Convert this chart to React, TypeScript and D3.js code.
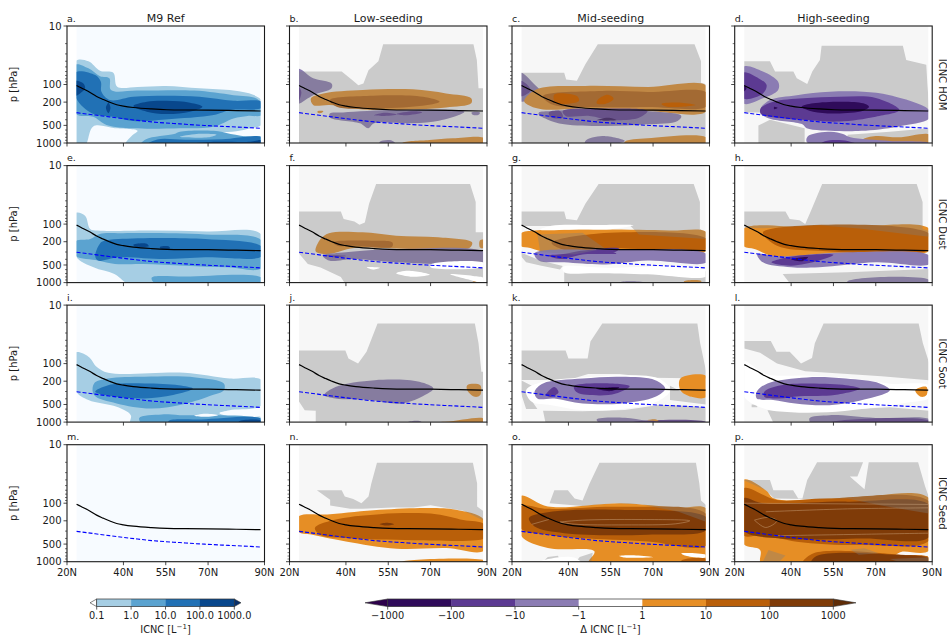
import React from "react";
import * as d3 from "d3";

type Pt = [number, number];
type Contour = [number, Pt[]];

const latTicks = [20, 40, 55, 70, 90];
const latLabels = ["20N", "40N", "55N", "70N", "90N"];
const pMajor = [10, 100, 200, 500, 1000];
const pMinor = [20, 30, 40, 50, 60, 70, 80, 90, 300, 400, 600, 700, 800, 900];
const columnTitles = ["M9 Ref", "Low-seeding", "Mid-seeding", "High-seeding"];
const rowTitles = ["ICNC HOM", "ICNC Dust", "ICNC Soot", "ICNC Seed"];
const letters = "abcdefghijklmnop".split("");

const blueColors = ["#f7fbff", "#a6cee4", "#5ba3d0", "#2171b5", "#08478c"];
const diffColors: Record<string, string> = {
  "-3": "#2f0b5a", "-2": "#5c3a92", "-1": "#8b7cb3", "0": "#ffffff",
  "1": "#e68e25", "2": "#b95f09", "3": "#7f3b08",
};
const blueTicks = ["0.1", "1.0", "10.0", "100.0", "1000.0"];
const diffTicks = ["\u22121000", "\u2212100", "\u221210", "\u22121", "1", "10", "100", "1000"];

const tropopause: Pt[] = [[23.4, 104], [25, 114], [28.2, 137], [30.5, 160], [32.8, 180], [35, 200], [37.6, 222], [40, 234], [43.5, 247], [50, 262], [55.4, 270], [62, 273], [70, 274], [80, 279], [88.6, 284]];
const isoline: Pt[] = [[23.4, 303], [30, 333], [35, 358], [40, 384], [45, 410], [50, 436], [55, 455], [60, 471], [65, 490], [70, 505], [75, 520], [80, 533], [85, 548], [88.6, 560]];

const aContours: Contour[] = [
  [1, [[23, 40], [27.6, 40], [31.7, 58], [36.4, 63], [37.8, 109], [45, 110], [55, 106], [67, 116], [79, 127], [86, 150], [89, 190], [89, 480], [85, 560], [80, 630], [74, 660], [70, 690], [76, 790], [89, 820], [89, 1100], [40.6, 1100], [42.9, 760], [45, 620], [37, 560], [29.3, 520], [26.4, 1100], [23, 1100]]],
  [2, [[23, 46], [27.6, 53], [31.7, 72], [35, 78], [35.6, 124], [45, 127], [65, 127], [79, 152], [87, 172], [89, 220], [89, 333], [84, 345], [79, 380], [72, 525], [60, 560], [43.5, 560], [34, 490], [29.3, 355], [23, 312]]],
  [2, [[46, 1100], [48, 860], [58, 700], [60, 640], [72, 620], [78, 700], [85, 790], [89, 790], [89, 1100]]],
  [1, [[60, 780], [66, 700], [73, 720], [70, 800], [62, 800]]],
  [3, [[23, 62], [30, 69], [32, 90], [32.2, 133], [35.2, 184], [43.5, 162], [55, 155], [67, 162], [79, 190], [89, 197], [89, 250], [78, 274], [72, 333], [55, 395], [43.5, 420], [36.4, 355], [29, 312], [23, 162]]],
  [3, [[48, 1100], [52, 870], [62, 880], [75, 860], [89, 800], [89, 1100]]],
  [4, [[23, 87], [25.8, 96], [26.4, 116], [24.6, 142], [23, 155]]],
  [4, [[34.7, 205], [35.4, 250], [34.7, 310], [33.8, 250]]],
  [4, [[43.5, 234], [48.3, 197], [55.3, 190], [63.6, 205], [68, 240], [63.6, 292], [55.3, 320], [48.3, 292]]],
  [4, [[60, 1100], [70, 960], [85, 950], [89, 900], [89, 1100]]],
];

const bContours: Contour[] = [
  [-1, [[23, 54], [28.4, 78], [34.9, 96], [34.9, 116], [28.4, 152], [23.7, 210], [23, 215]]],
  [-2, [[23, 105], [24.2, 135], [23, 205]]],
  [1, [[27.6, 172], [32, 142], [46, 124], [63.7, 121], [75.5, 142], [84.4, 172], [84.4, 210], [75.5, 247], [63.7, 267], [46, 267], [34.3, 224], [28.4, 224]]],
  [2, [[34.3, 184], [49.6, 155], [67.3, 162], [73.2, 197], [66, 234], [49.6, 256], [36.7, 240]]],
  [1, [[30, 285], [32, 285], [31.5, 305], [30, 305]]],
  [-1, [[34.3, 312], [39, 300], [58, 274], [82, 292], [80, 333], [73, 415], [63.7, 460], [50, 460], [47.9, 560], [45, 460], [34.3, 365]]],
  [-2, [[50, 333], [54, 303], [58, 325], [53, 345]]],
  [-2, [[58, 320], [64, 288], [67, 300], [61, 335]]],
  [-1, [[84.5, 300], [87.5, 300], [87, 330], [85, 330]]],
  [-1, [[52, 950], [56, 900], [58, 1100], [52, 1100]]],
  [1, [[60, 1000], [69.6, 890], [77.9, 830], [89, 830], [89, 1100], [60, 1100]]],
];
const cContours: Contour[] = [
  [-1, [[23, 63], [28, 100], [30.3, 138], [25, 192], [23, 192]]],
  [-2, [[23, 87], [25.8, 106], [26.5, 129], [23, 158]]],
  [1, [[24.3, 192], [28.8, 121], [46, 106], [68.3, 110], [89, 106], [89, 285], [68, 285], [46, 256], [31, 267], [26.5, 234]]],
  [2, [[31, 158], [52, 129], [68, 134], [89, 138], [89, 234], [68, 243], [52, 243], [34, 218]]],
  [-1, [[29.5, 303], [34, 285], [46, 267], [68, 285], [80, 345], [78.7, 420], [68, 480], [53.3, 513], [38.5, 480], [32.5, 395], [29.5, 330]]],
  [-2, [[33, 303], [37, 285], [38, 365], [34, 365]]],
  [-2, [[38, 285], [52, 258], [68, 285], [65, 370], [55, 405], [47.5, 345], [39, 345]]],
  [-3, [[50, 410], [54, 370], [57, 405]]],
  [-1, [[46, 920], [52, 760], [60, 925], [52, 1100], [46, 1100]]],
  [1, [[60, 950], [68, 830], [89, 810], [89, 1100], [60, 1100]]],
];
const cOver: Contour[] = [
  [2, [[35, 148], [43, 158], [43.7, 192], [35.4, 205]]],
  [2, [[50.5, 180], [54, 150], [56, 175], [53, 215], [50, 210]]],
  [2, [[73, 215], [80, 205], [85, 225], [75, 240]]],
];
const dContours: Contour[] = [
  [1, [[65.5, 866], [70, 760], [78, 800], [89, 720], [89, 960], [65.5, 960]]],
];
const dOver: Contour[] = [
  [-1, [[23, 50], [30, 60], [35.4, 90], [35.4, 124], [30, 172], [23, 210]]],
  [-2, [[23, 63], [28.4, 78], [31.3, 102], [30, 142], [23, 172]]],
  [-3, [[23, 102], [24.2, 116], [23, 133]]],
  [-1, [[29.2, 256], [32.5, 184], [42, 152], [53.7, 133], [65.5, 133], [75, 152], [89, 274], [89, 380], [77.8, 525], [65, 620], [57, 625], [45.5, 560], [44, 480], [32.5, 385], [29.2, 312]]],
  [-2, [[29.2, 256], [33.7, 197], [44.3, 172], [57, 162], [70, 170], [78.4, 274], [70, 355], [57, 430], [45.5, 405], [32.5, 355], [29.2, 312]]],
  [-3, [[43.7, 240], [47.8, 210], [58.4, 197], [65.5, 210], [67.6, 240], [65.5, 280], [56, 312], [47.8, 292]]],
  [-3, [[34, 240], [35.2, 250], [34, 265]]],
  [-1, [[46, 760], [54, 640], [58.4, 700], [61, 800], [75, 920], [89, 1000], [89, 1100], [49.5, 1100], [45.5, 950]]],
  [-2, [[50, 1100], [52, 930], [60, 920], [64, 1100]]],
];
const eContours: Contour[] = [
  [1, [[23, 65], [26.4, 72], [28.2, 121], [30.9, 129], [50.2, 129], [69.6, 134], [89, 152], [89, 1100], [42.8, 1100], [36.8, 710], [29.4, 548], [23, 345]]],
  [2, [[23, 198], [28.2, 180], [31.6, 147], [39.7, 143], [69, 150], [89, 192], [89, 560], [77, 548], [62, 513], [47, 480], [37, 480], [31, 420], [23, 345]]],
  [2, [[50, 830], [62, 790], [89, 830], [89, 1100], [52, 1100]]],
  [3, [[31.6, 218], [33, 195], [38.3, 180], [69, 180], [89, 243], [89, 355], [69, 370], [54.7, 395], [38.3, 370], [31, 420], [30, 350]]],
  [4, [[43.5, 225], [48, 215], [49, 240], [44, 240]]],
  [4, [[53, 245], [56, 240], [56.5, 262], [53, 262]]],
];
const fContours: Contour[] = [
  [1, [[29.2, 285], [31, 180], [34, 143], [45.9, 138], [57.8, 158], [72.7, 168], [84.7, 205], [84, 250], [65, 267], [43, 256], [34, 325], [30, 310]]],
  [2, [[35.5, 205], [49, 192], [56.4, 205], [56.4, 243], [43, 234], [37, 234]]],
  [1, [[87.5, 190], [89, 185], [89, 255], [87.5, 250]]],
  [-1, [[31.8, 345], [40, 303], [57.8, 267], [89, 303], [89, 450], [72.7, 480], [57.8, 450], [43, 395], [34, 420]]],
  [-2, [[33, 345], [40, 350], [36, 370]]],
  [1, [[85, 960], [88, 930], [88, 1000], [85, 1000]]],
];
const fOver: Contour[] = [
  [0, [[47.4, 548], [52, 560], [49.7, 600]]],
  [0, [[57.8, 690], [62, 625], [69.8, 730], [63.8, 795]]],
  [0, [[70, 490], [89, 460], [89, 525], [70, 545]]],
  [0, [[77, 720], [85, 770], [89, 840], [89, 1000], [84, 900]]],
];
const gContours: Contour[] = [
  [1, [[23, 147], [28, 129], [53, 124], [75.7, 129], [89, 138], [89, 285], [68, 325], [50, 345], [34, 325], [26.5, 256], [23, 234]]],
  [2, [[34, 210], [49, 147], [89, 180], [89, 267], [68, 267], [53, 260], [41.5, 300]]],
  [-1, [[28, 315], [53, 274], [89, 325], [89, 450], [68, 420], [53, 490], [38.5, 450], [29.5, 420]]],
  [-2, [[33, 345], [39, 320], [44.4, 285], [58, 260], [56, 310], [45, 330], [37, 395]]],
  [-2, [[50, 320], [54, 295], [57, 320]]],
  [-1, [[58, 1000], [65, 960], [70, 1100], [58, 1100]]],
  [1, [[81, 950], [87, 930], [87, 1000], [81, 1000]]],
];
const gOver: Contour[] = [
  [0, [[34, 107], [50, 104], [63, 105], [55, 122], [45, 122], [30, 125]]],
  [0, [[38, 548], [53, 560], [89, 600], [89, 780], [68, 720], [50, 690], [38.5, 666]]],
];
const hContours: Contour[] = [
  [1, [[23, 121], [45, 113], [60, 121], [70, 106], [89, 121], [89, 285], [70, 303], [50, 325], [35, 370], [27, 267], [23, 234]]],
  [2, [[30, 138], [89, 147], [89, 267], [50, 285], [35, 234]]],
  [-1, [[28, 325], [36, 355], [60, 303], [89, 345], [89, 480], [70, 450], [50, 548], [40, 548], [30, 450]]],
  [-2, [[36, 395], [43, 345], [55, 334], [50, 420], [40, 513], [33, 450]]],
  [-3, [[40, 400], [46, 370], [44, 430]]],
  [-1, [[60, 950], [89, 900], [89, 1100], [60, 1100]]],
];
const iContours: Contour[] = [
  [1, [[23, 65], [27.6, 76], [30.6, 114], [34.6, 143], [61.6, 143], [77.6, 180], [89, 192], [89, 513], [77.6, 625], [74, 700], [81.6, 866], [89, 830], [89, 1100], [42.6, 1100], [42.6, 760], [37.6, 548], [27.6, 420], [23, 285]]],
  [2, [[29.6, 218], [34.6, 180], [47.6, 168], [65.6, 172], [75.6, 218], [75.6, 285], [71.6, 345], [61.6, 490], [49.6, 585], [37.6, 480], [29.6, 345]]],
  [2, [[45.6, 850], [53.6, 740], [60, 760], [89, 900], [89, 1100], [47, 1100]]],
  [3, [[56, 960], [67.6, 900], [89, 880], [89, 1100], [56, 1100]]],
  [3, [[30, 303], [34.6, 234], [47.6, 218], [59.6, 234], [64.6, 267], [57.6, 345], [47.6, 395], [37.6, 370]]],
  [4, [[81, 970], [89, 950], [89, 1100], [81, 1100]]],
  [0, [[65, 780], [69, 720], [73.5, 760], [69, 810]]],
];
const jContours: Contour[] = [
  [-1, [[32.3, 345], [36.3, 250], [50.2, 192], [66, 205], [71, 267], [68, 345], [60, 480], [48.2, 420], [36.3, 395]]],
  [1, [[83, 234], [87.6, 234], [87.6, 345], [85.7, 370], [83, 285]]],
  [1, [[58, 1050], [75, 990], [89, 880], [89, 1100], [58, 1100]]],
  [-1, [[62, 1000], [66, 960], [68, 1100]]],
];
const kContours: Contour[] = [
  [-1, [[50, 900], [60, 840], [68, 950], [80, 1040], [89, 1040], [89, 1100], [52, 1100]]],
  [-2, [[62, 1030], [89, 1000], [89, 1100], [62, 1100]]],
  [1, [[68, 930], [71, 900], [72, 960]]],
];
const kOver: Contour[] = [
  [0, [[25, 285], [31, 205], [45, 172], [58.8, 158], [72, 180], [76, 285], [72, 430], [58.8, 600], [45, 625], [34, 513], [27, 450]]],
  [-1, [[28, 303], [31, 218], [45, 180], [58.8, 168], [70.8, 192], [74.3, 267], [70.8, 370], [58.8, 480], [45, 480], [35, 395], [29, 395]]],
  [-2, [[32, 345], [35, 250], [36.5, 310], [34, 370]]],
  [-2, [[42, 243], [61.7, 243], [56.8, 325], [50.8, 350], [43, 310]]],
  [-3, [[50, 270], [58, 255], [55, 295]]],
  [1, [[79.7, 180], [89, 165], [89, 370], [83.6, 370], [79.7, 285]]],
];
const lContours: Contour[] = [
  [-1, [[46.5, 860], [53.6, 760], [70, 850], [89, 900], [89, 1100], [47.5, 1100]]],
  [-2, [[54, 1020], [89, 950], [89, 1100], [54, 1100]]],
];
const lOver: Contour[] = [
  [0, [[23, 90], [31, 150], [45, 160], [60, 175], [75, 220], [89, 240], [89, 380], [80, 470], [65, 600], [53, 680], [40, 680], [30, 580], [23, 350]]],
  [-1, [[27.8, 303], [31.6, 218], [45.6, 172], [59.4, 180], [71.4, 218], [75, 285], [67.4, 395], [53.6, 513], [41.5, 480], [33.6, 420], [27.8, 395]]],
  [-2, [[30.5, 303], [36.5, 234], [59.4, 234], [64.4, 267], [55.4, 345], [43, 360], [35.5, 395], [30.5, 370]]],
  [1, [[84, 285], [88, 250], [88, 345], [86, 370]]],
];
const nContours: Contour[] = [
  [1, [[23, 171], [34.4, 155], [52, 130], [69.7, 121], [79, 130], [89, 194], [89, 640], [75.6, 585], [58, 600], [40, 450], [28.5, 350], [23, 303]]],
  [2, [[29, 265], [35.6, 194], [52, 154], [72, 154], [81.6, 194], [89, 230], [89, 395], [86, 430], [63.9, 430], [40, 395], [31, 350]]],
  [3, [[52, 228], [54.5, 216], [57, 228], [54.5, 240]]],
  [1, [[60, 1000], [89, 950], [89, 1030], [60, 1040]]],
];
const oContours: Contour[] = [
  [1, [[23, 76], [32.7, 114], [58.7, 100], [79, 120], [89, 125], [89, 1100], [47, 1100], [49.2, 666], [32.7, 585], [23, 350]]],
  [2, [[23, 114], [32.7, 125], [58.7, 115], [89, 155], [89, 520], [68, 450], [44.5, 395], [32.7, 345], [23, 267]]],
  [3, [[26, 180], [32.7, 143], [56, 129], [89, 175], [89, 285], [68, 345], [38.6, 325], [28, 250]]],
  [2, [[80, 960], [89, 900], [89, 1100], [80, 1100]]],
];
const oOver: Contour[] = [
  [0, [[58, 800], [64, 780], [70, 830], [60, 850]]],
  [0, [[80, 720], [89, 770], [89, 840], [82, 800]]],
  [0, [[34, 880], [42, 850], [45, 1100], [30, 1100], [30, 1000]]],
];
const pContours: Contour[] = [
  [1, [[23, 40], [31, 60], [34, 83], [60.8, 81], [89, 83], [89, 640], [79, 680], [77, 780], [89, 850], [89, 1100], [29.5, 1100], [29, 630], [23, 490]]],
  [2, [[23, 56], [34.8, 88], [52, 83], [89, 94], [89, 430], [65.5, 520], [42, 455], [30, 350], [23, 350]]],
  [3, [[23, 83], [30, 100], [60, 94], [89, 108], [89, 375], [65.5, 400], [36, 400], [23, 289]]],
  [2, [[44, 1100], [48, 720], [79, 760], [89, 850], [89, 1100]]],
  [3, [[47, 1100], [49, 800], [77, 760], [89, 890], [89, 1100]]],
];
const oSeams: Pt[][] = [[[37, 210], [45, 195], [65, 190], [83, 200], [78, 225], [60, 235], [42, 228], [37, 210]], [[27, 230], [33, 190]]];
const pSeams: Pt[][] = [[[23, 100], [89, 105]], [[31, 140], [60, 125], [89, 120]], [[27, 195], [32, 175], [35, 200], [31, 260], [27, 195]], [[34, 360], [65, 340], [89, 325]]];
const nSeams: Pt[][] = [];

const hatchB: Pt[][] = [[[23, 60], [38.5, 60], [42, 82], [44.4, 103], [46.2, 96], [48, 57], [51.5, 40], [53.2, 20.6], [85.2, 20.6], [86.4, 38], [87, 116], [89, 116], [89, 1100], [23, 1100]]];
const hatchC: Pt[][] = [[[23, 63], [38.5, 63], [39.2, 82], [43, 86], [46, 45], [50.4, 20.6], [84.7, 20.6], [87, 40], [87, 93], [89, 100], [89, 1100], [23, 1100]]];
const hatchD: Pt[][] = [
  [[23, 40], [32.5, 40], [34.3, 60], [40.8, 60], [42, 78], [45.7, 98], [47.5, 60], [50.2, 38], [50.8, 21.7], [79.6, 21.7], [80.8, 38], [87.9, 46], [88.3, 100], [89, 280], [70, 300], [40, 300], [23, 300]],
  [[28.4, 500], [32.5, 400], [44.8, 560], [44.8, 1100], [28.4, 1100]],
  [[60, 720], [75, 640], [89, 560], [89, 1100], [60, 1100]],
];
const hatchE: Pt[][] = [];
const hatchF: Pt[][] = [[[23, 61], [38.2, 61], [39.2, 82], [43, 90], [44.8, 103], [46.7, 94], [48.2, 45], [50.7, 20.6], [84, 20.6], [86, 42], [86, 138], [89, 138], [89, 1100], [40, 1100], [38.2, 800], [31, 550], [26.5, 480], [23, 303]]];
const hatchG: Pt[][] = [
  [[23, 61], [38.5, 61], [39.2, 82], [43, 86], [46, 45], [50.7, 20.6], [84.4, 20.6], [86.6, 42], [86.6, 121], [89, 138], [89, 180], [65, 150], [62, 108], [23, 108]],
  [[29, 150], [45, 140], [53, 260], [42, 330], [30, 300]],
  [[23, 303], [30, 420], [38, 520], [37, 600], [30, 510], [25, 450], [23, 345]],
  [[38.5, 666], [89, 640], [89, 1100], [38.5, 1100]],
];
const hatchH: Pt[][] = [
  [[23, 61], [38, 61], [39.5, 82], [43, 86], [45, 100], [47, 60], [51, 20.6], [84.5, 20.6], [86.6, 42], [86.6, 121], [89, 130], [89, 165], [65, 120], [50, 105], [30, 118], [23, 115]],
  [[37, 710], [60, 666], [89, 585], [89, 1100], [40, 1100]],
];
const hatchJ: Pt[][] = [[[23, 60], [39.8, 60], [40.9, 82], [44.3, 100], [47.3, 63], [51.2, 20.6], [85.7, 20.6], [87, 45], [88, 138], [89, 138], [89, 1100], [29.3, 1100], [29.3, 640], [25.4, 625], [23, 420]]];
const hatchK: Pt[][] = [
  [[23, 60], [39, 60], [40, 82], [46.8, 82], [47.8, 42], [52, 20.6], [85.7, 20.6], [86.7, 45], [89, 150], [89, 180], [70, 175], [58, 150], [47, 150], [40, 190], [23, 190]],
  [[23, 190], [27, 240], [27, 430], [29, 600], [25, 600], [23, 300]],
  [[31, 640], [45, 650], [60, 620], [72, 510], [80, 520], [89, 560], [89, 1100], [32, 1100]],
  [[76, 240], [80, 300], [84, 370], [89, 380], [89, 500], [76, 420]],
];
const hatchL: Pt[][] = [
  [[23.4, 41], [32.8, 41], [34.8, 63], [39.5, 63], [43.5, 100], [47.4, 80], [48.4, 45], [51.5, 20.6], [85.2, 20.6], [86.7, 45], [89, 100], [89, 192], [72, 165], [60, 150], [45, 135], [35, 100], [29, 65], [23.4, 55]],
  [[31.6, 625], [45, 640], [60, 610], [75, 560], [89, 640], [89, 1100], [34, 1100]],
  [[26, 500], [28, 500], [28, 560], [26, 560]],
];
const hatchN: Pt[][] = [[[29.7, 60], [38.5, 60], [39.6, 77], [42.6, 85], [45.5, 100], [48, 77], [49, 46], [51, 20.3], [85, 20.3], [86.5, 46], [86.5, 114], [89, 140], [89, 200], [81.6, 135], [70, 108], [63.9, 118], [56.7, 118], [46, 125], [41.5, 125], [34.4, 110], [34.4, 87]]];
const hatchO: Pt[][] = [
  [[33.3, 100], [35, 60], [39.8, 60], [42.2, 83], [45, 90], [47.5, 46], [51, 20.3], [85.2, 20.3], [86.4, 46], [87, 90], [89, 110], [89, 210], [79, 140], [66, 105], [56.3, 100], [45, 112]],
  [[30, 1100], [32.7, 830], [36.3, 790], [37.5, 1100]],
  [[42, 1100], [44, 830], [48.6, 700], [48, 1100]],
];
const hatchP: Pt[][] = [
  [[23, 40], [32.5, 40], [33.7, 60], [40.7, 60], [42.5, 83], [44, 83], [45.7, 40], [49.2, 20], [65.5, 20], [63.5, 35], [60.8, 35], [66, 58], [67.5, 20], [85, 20], [87.5, 52], [89, 83], [60, 83], [45, 85], [34, 83], [31, 60]],
  [[60, 83], [89, 83], [89, 150], [72, 110]],
  [[29.5, 1100], [32, 630], [38, 780], [35, 1100]],
  [[61, 625], [66, 590], [71, 720], [64, 760]],
  [[75, 900], [89, 840], [89, 1000], [78, 1000]],
];

const COLS = [67, 289.5, 512, 734.7];
const ROWS = [26, 165.6, 305.1, 444.7];
const W = 197.5;
const H = 117;
const FONT = "'DejaVu Sans', sans-serif";
const DARK = "#1a1a1a";

const x = d3.scaleLinear().domain([20, 90]).range([0, W]);
const y = d3.scaleLog().domain([10, 1000]).range([0, H]);
const closedSmooth = d3.line<Pt>().x((d) => x(d[0])).y((d) => y(d[1])).curve(d3.curveCatmullRomClosed.alpha(0.5));
const closedSharp = d3.line<Pt>().x((d) => x(d[0])).y((d) => y(d[1])).curve(d3.curveLinearClosed);
const openSmooth = d3.line<Pt>().x((d) => x(d[0])).y((d) => y(d[1])).curve(d3.curveCatmullRom.alpha(0.5));
const profileLine = d3.line<Pt>().x((d) => x(d[0])).y((d) => y(d[1])).curve(d3.curveMonotoneX);

const PANELS: { under: Contour[]; hatch: Pt[][]; over: Contour[]; seams: Pt[][] }[] = [
  { under: aContours, hatch: [], over: [], seams: [] },
  { under: bContours, hatch: hatchB, over: [], seams: [] },
  { under: cContours, hatch: hatchC, over: cOver, seams: [] },
  { under: dContours, hatch: hatchD, over: dOver, seams: [] },
  { under: eContours, hatch: hatchE, over: [], seams: [] },
  { under: fContours, hatch: hatchF, over: fOver, seams: [] },
  { under: gContours, hatch: hatchG, over: gOver, seams: [] },
  { under: hContours, hatch: hatchH, over: [], seams: [] },
  { under: iContours, hatch: [], over: [], seams: [] },
  { under: jContours, hatch: hatchJ, over: [], seams: [] },
  { under: kContours, hatch: hatchK, over: kOver, seams: [] },
  { under: lContours, hatch: hatchL, over: lOver, seams: [] },
  { under: [], hatch: [], over: [], seams: [] },
  { under: nContours, hatch: hatchN, over: [], seams: nSeams },
  { under: oContours, hatch: hatchO, over: oOver, seams: oSeams },
  { under: pContours, hatch: hatchP, over: [], seams: pSeams },
];

function Panel({ i }: { i: number }) {
  const c = i % 4;
  const r = Math.floor(i / 4);
  const isRef = c === 0;
  const p = PANELS[i];
  const color = (l: number) => (isRef ? blueColors[l] : diffColors[String(l)]);
  const clipId = `clip${i}`;
  return (
    <g transform={`translate(${COLS[c]},${ROWS[r]})`}>
      <clipPath id={clipId}>
        <rect x={x(23.4)} y={0} width={x(88.6) - x(23.4)} height={H} />
      </clipPath>
      <rect x={x(23.4)} y={0} width={x(88.6) - x(23.4)} height={H} fill={isRef ? blueColors[0] : "#f7f7f7"} />
      <g clipPath={`url(#${clipId})`}>
        {p.under.map(([l, pts], k) => <path key={k} d={closedSmooth(pts) ?? ""} fill={color(l)} />)}
        {p.hatch.map((pts, k) => <path key={k} d={closedSharp(pts) ?? ""} fill="url(#dots)" />)}
        {p.over.map(([l, pts], k) => <path key={k} d={closedSmooth(pts) ?? ""} fill={color(l)} />)}
        {p.seams.map((pts, k) => <path key={k} d={openSmooth(pts) ?? ""} fill="none" stroke="#d9b48f" strokeWidth={0.6} strokeOpacity={0.7} />)}
      </g>
      <path d={profileLine(tropopause) ?? ""} fill="none" stroke="#000" strokeWidth={1.2} />
      <path d={profileLine(isoline) ?? ""} fill="none" stroke="#0000ff" strokeWidth={1.1} strokeDasharray="4 2" />
      <rect x={0} y={0} width={W} height={H} fill="none" stroke={DARK} strokeWidth={1.1} />
      {pMajor.map((t) => <line key={t} x1={-3.5} x2={0} y1={y(t)} y2={y(t)} stroke={DARK} strokeWidth={0.8} />)}
      {pMinor.map((t) => <line key={t} x1={-2} x2={0} y1={y(t)} y2={y(t)} stroke={DARK} strokeWidth={0.6} />)}
      {latTicks.map((t) => <line key={t} x1={x(t)} x2={x(t)} y1={H} y2={H + 3.5} stroke={DARK} strokeWidth={0.8} />)}
      {c === 0 && pMajor.map((t) => (
        <text key={t} x={-5.5} y={y(t) + 3.6} fontSize={10} textAnchor="end" fill={DARK}>{t}</text>
      ))}
      {c === 0 && (
        <text transform={`translate(-50,${H / 2}) rotate(-90)`} fontSize={10} textAnchor="middle" fill={DARK}>p [hPa]</text>
      )}
      {r === 3 && latTicks.map((t, k) => (
        <text key={t} x={x(t)} y={H + 14} fontSize={10} textAnchor="middle" fill={DARK}>{latLabels[k]}</text>
      ))}
      <text x={0} y={-4.5} fontSize={9.5} fill={DARK}>{letters[i]}.</text>
      {r === 0 && <text x={W / 2} y={-4.5} fontSize={11} textAnchor="middle" fill={DARK}>{columnTitles[c]}</text>}
      {c === 3 && (
        <text transform={`translate(${W + 6.5},${H / 2}) rotate(90)`} fontSize={10} textAnchor="middle" fill={DARK}>{rowTitles[r]}</text>
      )}
    </g>
  );
}

function ColorBar({ colors, ticks, x0, x1, tipLeft, tipRight, leftFill, rightFill, title }: {
  colors: string[]; ticks: string[]; x0: number; x1: number; tipLeft: number; tipRight: number; leftFill: string; rightFill: string; title: React.ReactNode;
}) {
  const top = 599;
  const h = 7.6;
  const s = d3.scaleLinear().domain([0, colors.length]).range([x0, x1]);
  return (
    <g>
      <path d={`M${x0},${top}L${tipLeft},${top + h / 2}L${x0},${top + h}Z`} fill={leftFill} stroke="#333" strokeWidth={0.6} />
      <path d={`M${x1},${top}L${tipRight},${top + h / 2}L${x1},${top + h}Z`} fill={rightFill} stroke="#333" strokeWidth={0.6} />
      {colors.map((col, k) => <rect key={k} x={s(k)} y={top} width={s(k + 1) - s(k) + 0.3} height={h} fill={col} />)}
      <rect x={x0} y={top} width={x1 - x0} height={h} fill="none" stroke="#333" strokeWidth={0.7} />
      {ticks.map((t, k) => (
        <g key={k}>
          <line x1={s(k)} x2={s(k)} y1={top + h} y2={top + h + 3} stroke={DARK} strokeWidth={0.7} />
          <text x={s(k)} y={top + h + 12} fontSize={9.8} textAnchor="middle" fill={DARK}>{t}</text>
        </g>
      ))}
      <text x={(x0 + x1) / 2} y={top + h + 26} fontSize={9.8} textAnchor="middle" fill={DARK}>{title}</text>
    </g>
  );
}

export default function App() {
  const indices = d3.range(16);
  return (
    <svg width={947} height={636} style={{ position: "absolute", left: 0, top: 0, fontFamily: FONT }}>
      <defs>
        <pattern id="dots" width={2} height={2} patternUnits="userSpaceOnUse">
          <circle cx={1} cy={1} r={0.68} fill="#7c7c7c" />
        </pattern>
      </defs>
      <rect width={947} height={636} fill="#fff" />
      {indices.map((i) => <Panel key={i} i={i} />)}
      <ColorBar colors={blueColors.slice(1, 5)} ticks={blueTicks} x0={96.7} x1={234.3} tipLeft={90} tipRight={241} leftFill="#ffffff" rightFill="#08306b"
        title={<>ICNC [L<tspan dy={-3.5} fontSize={7}>−1</tspan><tspan dy={3.5}>]</tspan></>} />
      <ColorBar colors={[-3, -2, -1, 0, 1, 2, 3].map((l) => diffColors[String(l)])} ticks={diffTicks} x0={387.7} x1={833.3} tipLeft={365} tipRight={856} leftFill="#2d004b" rightFill="#5f2c06"
        title={<>Δ ICNC [L<tspan dy={-3.5} fontSize={7}>−1</tspan><tspan dy={3.5}>]</tspan></>} />
    </svg>
  );
}
